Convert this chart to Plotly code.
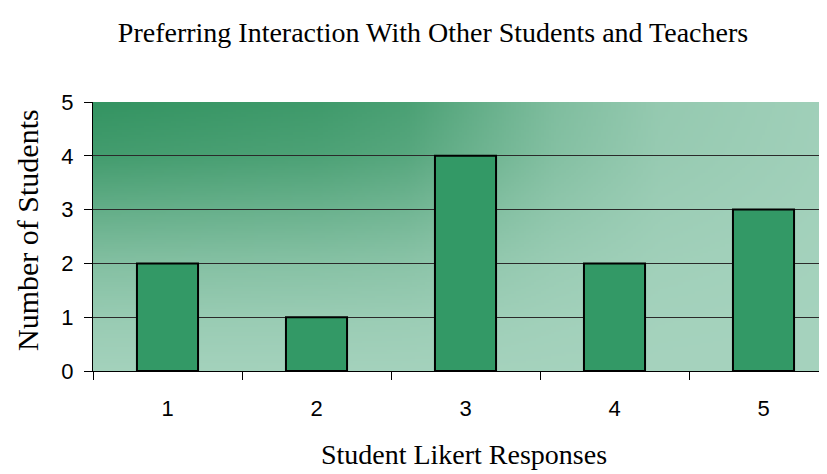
import base64
import struct
import zlib

import numpy as np
import plotly.graph_objects as go

# chart data
categories = [1, 2, 3, 4, 5]
tick_labels = ["1", "2", "3", "4", "5"]
students = [2, 1, 4, 2, 3]

chart_title = "Preferring Interaction With Other Students and Teachers"
x_title = "Student Likert Responses"
y_title = "Number of Students"


def png_data_uri(rgb):
    """Encode an HxWx3 uint8 array as a PNG data uri (no PIL needed)."""
    h, w, _ = rgb.shape
    raw = b"".join(b"\x00" + rgb[i].tobytes() for i in range(h))

    def chunk(tag, data):
        out = struct.pack(">I", len(data)) + tag + data
        return out + struct.pack(">I", zlib.crc32(tag + data) & 0xFFFFFFFF)

    png = b"\x89PNG\r\n\x1a\n"
    png += chunk(b"IHDR", struct.pack(">IIBBBBB", w, h, 8, 2, 0, 0, 0))
    png += chunk(b"IDAT", zlib.compress(raw, 9))
    png += chunk(b"IEND", b"")
    return "data:image/png;base64," + base64.b64encode(png).decode()


def green_gradient(w=300, h=120):
    # dark green in top-left corner fading to pale green elsewhere
    dark = np.array([52, 148, 98], dtype=float)
    light = np.array([166, 211, 190], dtype=float)
    u = np.linspace(0, 1, w)
    v = np.linspace(0, 1, h)
    fu = np.interp(u, [0, 0.3, 0.42, 0.62, 0.76, 1.0], [1, 0.9, 0.8, 0.34, 0.15, 0.04])
    fv = np.interp(v, [0, 0.2, 0.37, 0.6, 0.8, 1.0], [1, 0.86, 0.62, 0.3, 0.12, 0.02])
    f = np.outer(fv, fu)[..., None]
    img = light + (dark - light) * f
    return np.clip(img, 0, 255).astype(np.uint8)


fig = go.Figure()

fig.add_trace(go.Bar(
    x=categories,
    y=students,
    marker=dict(color="#339966", line=dict(color="black", width=2)),
    showlegend=False,
))

# the page has an 8px body margin; the plot area runs past the right edge
# of the window, like the original picture
x_right = 0.5 + 5 * (835 - 93) / 745

fig.add_layout_image(dict(
    source=png_data_uri(green_gradient()),
    xref="x", yref="y",
    x=0.5, y=5, sizex=5, sizey=5,
    sizing="stretch", layer="below",
))

serif = "Liberation Serif, Times New Roman, serif"
sans = "Liberation Sans, Arial, sans-serif"

fig.update_layout(
    width=827,
    height=474,
    margin=dict(l=85, r=0, t=94, b=111),
    paper_bgcolor="white",
    plot_bgcolor="white",
    bargap=0.59,
    title=dict(
        text=chart_title,
        font=dict(family=serif, size=28, color="black"),
        xref="container", yref="container",
        x=425 / 827, y=1 - 24 / 474,
        xanchor="center", yanchor="middle",
    ),
    xaxis=dict(
        range=[0.5, x_right],
        tickvals=categories,
        ticktext=tick_labels,
        ticks="outside",
        ticklen=8,
        tickcolor="rgba(0,0,0,0)",
        ticklabelstandoff=10,
        tickfont=dict(family=sans, size=22, color="black"),
        minor=dict(tickvals=[0.5, 1.5, 2.5, 3.5, 4.5], ticks="outside",
                   ticklen=8, tickcolor="black", tickwidth=1, showgrid=False),
        showline=True, linecolor="black", linewidth=1,
        showgrid=False, zeroline=False,
        title=dict(text=x_title, font=dict(family=serif, size=28, color="black"),
                   standoff=23),
    ),
    yaxis=dict(
        range=[0, 5],
        dtick=1,
        ticks="outside",
        ticklen=8,
        tickcolor="black",
        ticklabelstandoff=6,
        tickfont=dict(family=sans, size=22, color="black"),
        showline=True, linecolor="black", linewidth=1,
        showgrid=True, gridcolor="#2a2a2a", gridwidth=1,
        zeroline=False,
    ),
    annotations=[dict(
        text=y_title,
        textangle=-90,
        font=dict(family=serif, size=30, color="black"),
        xref="paper", yref="paper",
        x=(19 - 85) / 742, y=(363 - 222) / 269,
        xanchor="center", yanchor="middle",
        showarrow=False,
    )],
)

fig.write_html("out.html")
